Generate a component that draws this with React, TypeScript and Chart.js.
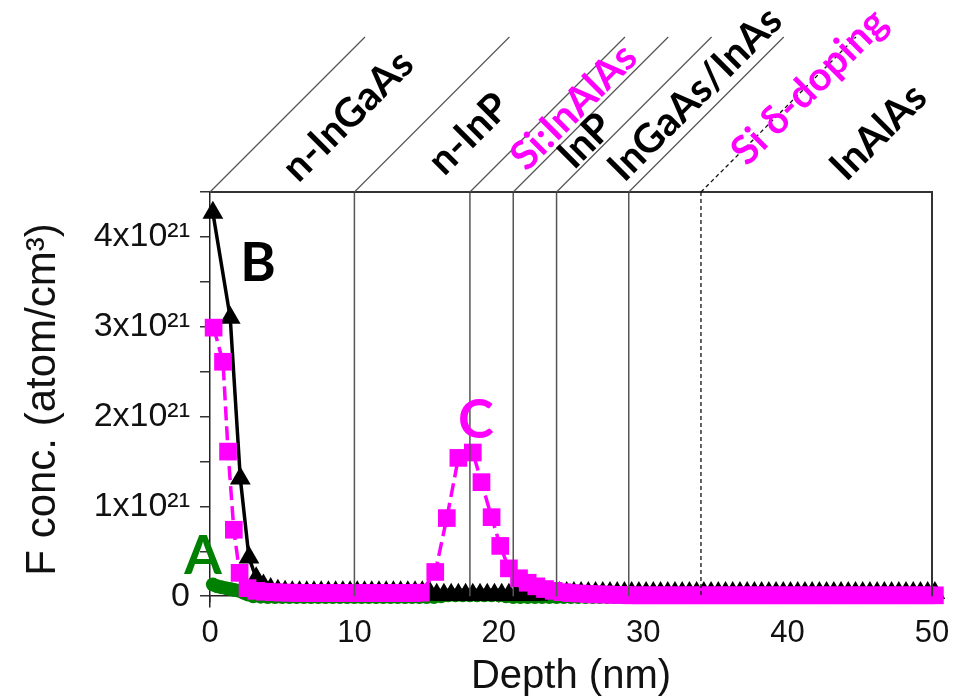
import React, { useEffect, useRef } from "react";
import { Chart, registerables } from "chart.js";

Chart.register(...registerables);

// ---- data (concentration in units of 1e21 atom/cm^3, depth in nm) ----
const pinkDepth = [
  0.25, 0.9, 1.25, 1.65, 2.05, 2.6,
  3.2, 3.8, 4.4, 5.0, 5.6, 6.2, 6.8, 7.4, 8.0, 8.6,
  9.2, 9.8, 10.4, 11.0, 11.6, 12.2, 12.8, 13.4, 14.0, 14.6,
  15.6, 16.4, 17.2, 18.2, 18.8, 19.5, 20.1, 20.7,
  21.4, 22.0, 22.6, 23.2, 23.8, 24.4, 25.0, 25.6, 26.2, 26.8,
  27.4, 28.0, 28.6, 29.2, 29.8, 30.4, 31.0, 31.6, 32.2, 32.8,
  33.4, 34.0, 34.6, 35.2, 35.8, 36.4, 37.0, 37.6, 38.2, 38.8,
  39.4, 40.0, 40.6, 41.2, 41.8, 42.4, 43.0, 43.6, 44.2, 44.8,
  45.4, 46.0, 46.6, 47.2, 47.8, 48.4, 49.0, 49.6, 50.2,
];
const pinkConc = [
  2.99, 2.61, 1.61, 0.74, 0.26, 0.09,
  0.06, 0.05, 0.045, 0.04, 0.04, 0.035, 0.035, 0.035, 0.035, 0.035,
  0.035, 0.035, 0.035, 0.035, 0.035, 0.035, 0.035, 0.035, 0.035, 0.04,
  0.27, 0.87, 1.54, 1.6, 1.27, 0.88, 0.56, 0.31,
  0.2, 0.15, 0.11, 0.08, 0.06, 0.045, 0.035, 0.03, 0.025, 0.02,
  0.02, 0.015, 0.015, 0.01, 0.01, 0.01, 0.01, 0.01, 0.01, 0.01,
  0.01, 0.01, 0.01, 0.01, 0.01, 0.01, 0.01, 0.01, 0.01, 0.01,
  0.01, 0.01, 0.01, 0.01, 0.01, 0.01, 0.01, 0.01, 0.01, 0.01,
  0.01, 0.01, 0.01, 0.01, 0.01, 0.01, 0.01, 0.01, 0.01,
];

const blackDepth = [
  0.2, 1.4, 2.1, 2.7,
  3.2, 3.7, 4.2, 4.7, 5.2, 5.7, 6.2, 6.7, 7.2, 7.7,
  8.2, 8.7, 9.2, 9.7, 10.2, 10.7, 11.2, 11.7, 12.2, 12.7,
  13.2, 13.7, 14.2, 14.7, 15.2, 15.7, 16.2, 16.7, 17.2, 17.7,
  18.2, 18.7, 19.2, 19.7, 20.2, 20.7, 21.2, 21.7, 22.2, 22.7,
  23.2, 23.7, 24.2, 24.7, 25.2, 25.7, 26.2, 26.7, 27.2, 27.7,
  28.2, 28.7, 29.2, 29.7, 30.2, 30.7, 31.2, 31.7, 32.2, 32.7,
  33.2, 33.7, 34.2, 34.7, 35.2, 35.7, 36.2, 36.7, 37.2, 37.7,
  38.2, 38.7, 39.2, 39.7, 40.2, 40.7, 41.2, 41.7, 42.2, 42.7,
  43.2, 43.7, 44.2, 44.7, 45.2, 45.7, 46.2, 46.7, 47.2, 47.7,
  48.2, 48.7, 49.2, 49.7, 50.2, 50.7, 51.2,
];
const blackConc = [
  4.27, 3.1, 1.31, 0.43,
  0.2, 0.12, 0.08, 0.06, 0.05, 0.045, 0.045, 0.045, 0.045, 0.045,
  0.045, 0.045, 0.045, 0.045, 0.045, 0.045, 0.045, 0.045, 0.045, 0.045,
  0.045, 0.045, 0.045, 0.045, 0.045, 0.015, 0.015, 0.015, 0.015, 0.015,
  0.015, 0.015, 0.015, 0.015, 0.015, 0.015, 0.015, 0.015, 0.015, 0.015,
  0.035, 0.035, 0.035, 0.035, 0.035, 0.035, 0.035, 0.035, 0.035, 0.035,
  0.035, 0.035, 0.035, 0.035, 0.035, 0.035, 0.035, 0.035, 0.035, 0.035,
  0.035, 0.035, 0.035, 0.035, 0.035, 0.035, 0.035, 0.035, 0.035, 0.035,
  0.035, 0.035, 0.035, 0.035, 0.035, 0.035, 0.035, 0.035, 0.035, 0.035,
  0.035, 0.035, 0.035, 0.035, 0.035, 0.035, 0.035, 0.035, 0.035, 0.035,
  0.035, 0.035, 0.035, 0.035, 0.035, 0.03, 0.02,
];

const greenDepth = [
  0.2, 0.5, 0.8, 1.1, 1.4, 1.7, 2.0, 2.3, 2.6,
  3.0, 3.5, 4.0, 4.5, 5.0, 5.5, 6.0, 6.5, 7.0, 7.5,
  8.0, 8.5, 9.0, 9.5, 10.0, 10.5, 11.0, 11.5, 12.0, 12.5,
  13.0, 13.5, 14.0, 14.5, 15.0, 15.5, 16.0, 16.5, 17.0, 17.5,
  18.0, 18.5, 19.0, 19.5, 20.0, 20.5, 21.0, 21.5, 22.0, 22.5,
  23.0, 23.5, 24.0, 24.5, 25.0, 25.5, 26.0, 26.5, 27.0, 27.5,
  28.0, 28.5, 29.0, 29.5, 30.0, 30.5, 31.0, 31.5, 32.0, 32.5,
  33.0, 33.5, 34.0, 34.5, 35.0, 35.5, 36.0, 36.5, 37.0, 37.5,
  38.0, 38.5, 39.0, 39.5, 40.0, 40.5, 41.0, 41.5, 42.0, 42.5,
  43.0, 43.5, 44.0, 44.5, 45.0, 45.5, 46.0, 46.5, 47.0, 47.5,
  48.0, 48.5, 49.0, 49.5, 50.0, 50.5, 51.0,
];
const greenConc = [
  0.13, 0.11, 0.1, 0.09, 0.08, 0.07, 0.06, 0.04, 0.02,
  0.0, -0.005, -0.01, -0.01, -0.01, -0.01, -0.01, -0.01, -0.01, -0.01,
  -0.01, -0.01, -0.01, -0.01, -0.01, -0.01, -0.01, -0.01, -0.01, -0.01,
  -0.01, -0.01, -0.01, -0.01, -0.01, -0.01, 0.0, 0.01, 0.01, 0.01,
  0.01, 0.01, 0.01, 0.01, 0.01, 0.0, -0.01, -0.01, -0.01, -0.01,
  -0.01, -0.01, -0.01, -0.01, -0.01, -0.01, -0.01, -0.01, -0.01, -0.01,
  -0.01, -0.01, -0.01, -0.01, -0.01, -0.01, -0.01, -0.01, -0.01, -0.01,
  -0.01, -0.01, -0.01, -0.01, -0.01, -0.01, -0.01, -0.01, -0.01, -0.01,
  -0.01, -0.01, -0.01, -0.01, -0.01, -0.01, -0.01, -0.01, -0.01, -0.01,
  -0.01, -0.01, -0.01, -0.01, -0.01, -0.01, -0.01, -0.01, -0.01, -0.01,
  -0.01, -0.01, -0.01, -0.01, -0.01, -0.01, -0.01,
];

// layer structure
const layerEdges = [0, 10, 18, 21, 24, 29];
const deltaEdge = 34;
const stackEnd = 50;
const layerNames = ["n-InGaAs", "n-InP", "Si:InAlAs", "InP", "InGaAs/InAs", "Si \u03b4-doping", "InAlAs"];
const layerNameDepth = [9.56, 17.94, 25.2, 26.0, 33.6, 41.5, 46.3];
const layerNameRise = [76, 58, 85, 51, 98, 105, 60];
const layerNameMagenta = [false, false, true, false, false, true, false];

// curve tags
const tagText = ["A", "B", "C"];
const tagDepth = [-0.48, 3.32, 18.42];
const tagConc = [0.446, 3.7, 1.96];
const tagColor = ["#008000", "#000000", "#ff00ff"];

const yTickLabels = ["0", "1x10\u00b2\u00b9", "2x10\u00b2\u00b9", "3x10\u00b2\u00b9", "4x10\u00b2\u00b9"];

const MAGENTA = "#ff00ff";
const GREEN = "#008000";
const AXIS_FONT = '"Liberation Sans", Arial, sans-serif';
const LABEL_FONT = 'Lato, "Open Sans", sans-serif';

const pts = (xs: number[], ys: number[]) => xs.map((x, i) => ({ x, y: ys[i] }));

const overlayPlugin = {
  id: "layerOverlay",
  afterDatasetsDraw(chart: any) {
    const { ctx, chartArea, scales } = chart;
    const xs = scales.x;
    const ys = scales.y;
    const top = chartArea.top;
    const zeroY = ys.getPixelForValue(0);
    const rise = 155;
    ctx.save();
    // layer boundaries
    ctx.strokeStyle = "#555";
    ctx.lineWidth = 1.5;
    for (const d of layerEdges.slice(1)) {
      const x = xs.getPixelForValue(d);
      ctx.beginPath();
      ctx.moveTo(x, top);
      ctx.lineTo(x, zeroY);
      ctx.stroke();
    }
    // right frame + top frame
    ctx.strokeStyle = "#333";
    ctx.lineWidth = 2;
    const xr = xs.getPixelForValue(stackEnd);
    const xl = xs.getPixelForValue(0);
    ctx.beginPath();
    ctx.moveTo(xr, zeroY);
    ctx.lineTo(xr, top);
    ctx.lineTo(xl, top);
    ctx.stroke();
    // dashed delta layer
    const xd = xs.getPixelForValue(deltaEdge);
    ctx.strokeStyle = "#111";
    ctx.lineWidth = 1.3;
    ctx.setLineDash([4, 3]);
    ctx.beginPath();
    ctx.moveTo(xd, top);
    ctx.lineTo(xd, zeroY);
    ctx.stroke();
    ctx.beginPath();
    ctx.moveTo(xd, top);
    ctx.lineTo(xd + rise, top - rise);
    ctx.stroke();
    ctx.setLineDash([]);
    // diagonals
    ctx.strokeStyle = "#555";
    ctx.lineWidth = 1.2;
    for (const d of layerEdges) {
      const x = xs.getPixelForValue(d);
      ctx.beginPath();
      ctx.moveTo(x, top);
      ctx.lineTo(x + rise, top - rise);
      ctx.stroke();
    }
    // layer names
    ctx.font = `bold 40px ${LABEL_FONT}`;
    ctx.textAlign = "center";
    ctx.textBaseline = "middle";
    layerNames.forEach((name, i) => {
      const cx = xs.getPixelForValue(layerNameDepth[i]);
      const cy = top - layerNameRise[i];
      ctx.save();
      ctx.translate(cx, cy);
      ctx.rotate(-Math.PI / 4);
      ctx.fillStyle = layerNameMagenta[i] ? MAGENTA : "#000";
      ctx.fillText(name, 0, 0);
      ctx.restore();
    });
    // curve tags
    ctx.font = `bold 54px ${LABEL_FONT}`;
    tagText.forEach((t, i) => {
      ctx.fillStyle = tagColor[i];
      ctx.fillText(t, xs.getPixelForValue(tagDepth[i]), ys.getPixelForValue(tagConc[i]));
    });
    ctx.restore();
  },
};

export default function App() {
  const canvasRef = useRef<HTMLCanvasElement | null>(null);

  useEffect(() => {
    if (!canvasRef.current) return;
    const chart = new Chart(canvasRef.current, {
      type: "line",
      data: {
        datasets: [
          {
            label: "Si:InAlAs",
            data: pts(pinkDepth, pinkConc),
            borderColor: MAGENTA,
            backgroundColor: MAGENTA,
            borderWidth: 3.5,
            borderDash: [14, 6],
            pointStyle: "rect",
            pointRadius: 12.5,
            pointBorderWidth: 0,
            pointBackgroundColor: MAGENTA,
            tension: 0,
            clip: false,
          },
          {
            label: "B",
            data: pts(blackDepth, blackConc),
            borderColor: "#000",
            backgroundColor: "#000",
            borderWidth: 3.5,
            pointStyle: "triangle",
            pointRadius: 12,
            pointBorderWidth: 0,
            pointBackgroundColor: "#000",
            tension: 0,
            clip: false,
          },
          {
            label: "A",
            data: pts(greenDepth, greenConc),
            borderColor: GREEN,
            backgroundColor: GREEN,
            borderWidth: 2,
            borderDash: [4, 4],
            pointStyle: "circle",
            pointRadius: 7,
            pointBorderWidth: 0,
            pointBackgroundColor: GREEN,
            tension: 0,
            clip: false,
          },
        ],
      },
      options: {
        animation: false,
        responsive: true,
        maintainAspectRatio: false,
        devicePixelRatio: 1,
        layout: { padding: { top: 192, right: 35, bottom: 89, left: 0 } },
        plugins: { legend: { display: false }, tooltip: { enabled: false }, title: { display: false } },
        scales: {
          x: {
            type: "linear",
            position: { y: 0 } as any,
            min: 0,
            max: 50,
            z: 1,
            grid: { drawOnChartArea: false, drawTicks: true, tickLength: 6, color: "#333", lineWidth: 1.5 },
            border: { display: true, color: "#222", width: 1.5 },
            ticks: {
              stepSize: 5,
              autoSkip: false,
              maxRotation: 0,
              padding: 13,
              color: "#111",
              font: { family: AXIS_FONT, size: 31 },
              callback: (v: any) => (Number(v) % 10 === 0 ? String(v) : ""),
            },
            title: {
              display: true,
              text: "Depth (nm)",
              color: "#111",
              font: { family: AXIS_FONT, size: 40 },
              padding: { top: -12, bottom: 0 },
            },
          },
          y: {
            type: "linear",
            position: "left",
            min: -0.12,
            max: 4.5,
            grid: { drawOnChartArea: false, drawTicks: true, tickLength: 10, color: "#333", lineWidth: 1.5 },
            border: { display: true, color: "#222", width: 1.5 },
            ticks: {
              stepSize: 0.5,
              includeBounds: false,
              autoSkip: false,
              padding: 10,
              color: "#111",
              font: { family: AXIS_FONT, size: 34 },
              callback: (v: any) => {
                const n = Number(v);
                const r = Math.round(n);
                return Math.abs(n - r) < 1e-6 && r >= 0 && r < yTickLabels.length ? yTickLabels[r] : "";
              },
            },
            title: {
              display: true,
              text: "F conc. (atom/cm\u00b3)",
              color: "#111",
              font: { family: AXIS_FONT, size: 42 },
              padding: { top: 18, bottom: 0 },
            },
            afterFit: (scale: any) => {
              scale.width = 210;
            },
          },
        },
      },
      plugins: [overlayPlugin],
    });
    return () => chart.destroy();
  }, []);

  return (
    <div style={{ position: "fixed", left: 0, top: 0, width: 967, height: 696, background: "#fff" }}>
      <canvas ref={canvasRef} />
    </div>
  );
}
